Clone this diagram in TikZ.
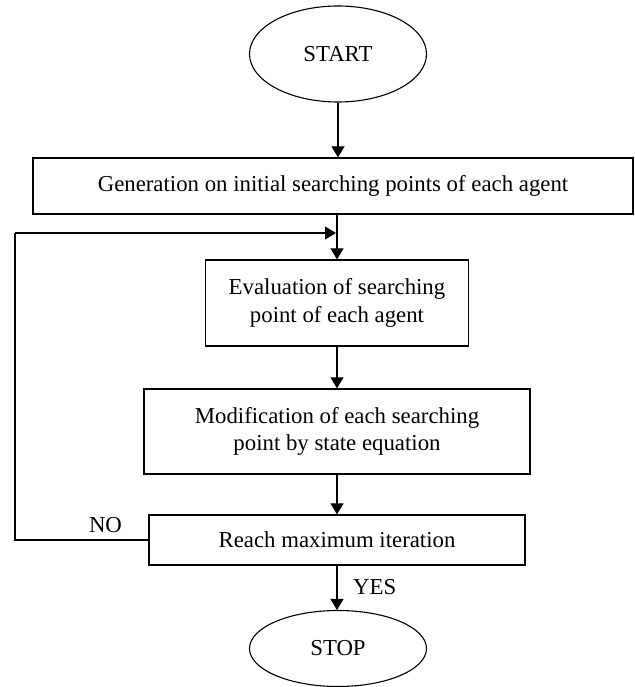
\documentclass[tikz,border=0pt]{standalone}
\usepackage{fontspec}
\setmainfont{Liberation Serif}
\usetikzlibrary{arrows.meta,shapes.geometric}
\begin{document}
\begin{tikzpicture}[x=1pt,y=-1pt,
  every node/.style={font=\fontsize{22.8}{27.5}\selectfont, inner sep=0pt, align=center},
  procbox/.style={draw, line width=1.3pt, rectangle},
  termnode/.style={draw, line width=1.1pt, ellipse},
  arr/.style={line width=1.1pt, -{Triangle[length=11pt,width=13pt]}},
  plain/.style={line width=1.1pt}]
\useasboundingbox (0,0) rectangle (634,687);
\node[termnode, minimum width=177pt, minimum height=96pt] (start) at (338,54) {START};
\node[procbox, minimum width=600pt, minimum height=56pt] (box1) at (333,186) {Generation on initial searching points of each agent};
\node[procbox, minimum width=263pt, minimum height=86pt] (box2) at (337,303) {Evaluation of searching\\point of each agent};
\node[procbox, minimum width=386pt, minimum height=85pt] (box3) at (337,431.5) {Modification of each searching\\point by state equation};
\node[procbox, minimum width=376pt, minimum height=50pt] (box4) at (337,540) {Reach maximum iteration};
\node[termnode, minimum width=177pt, minimum height=76pt] (stop) at (338,648.5) {STOP};
\node[anchor=west] (yes) at (353,587) {YES};
\node (no) at (105.5,525) {NO};
\coordinate (loopend) at (336,233);
\coordinate (loopleft) at (15,540);
\coordinate (looptop) at (15,233);
\draw[arr] (start.south) -- (start.south |- box1.north);
\draw[arr] (box2.north |- box1.south) -- (box2.north);
\draw[arr] (box2.south) -- (box3.north);
\draw[arr] (box3.south) -- (box4.north);
\draw[arr] (box4.south) -- (box4.south |- stop.north);
\draw[plain] (box4.west) -- (loopleft) -- (looptop);
\draw[arr] (looptop) -- (loopend);
\end{tikzpicture}
\end{document}
